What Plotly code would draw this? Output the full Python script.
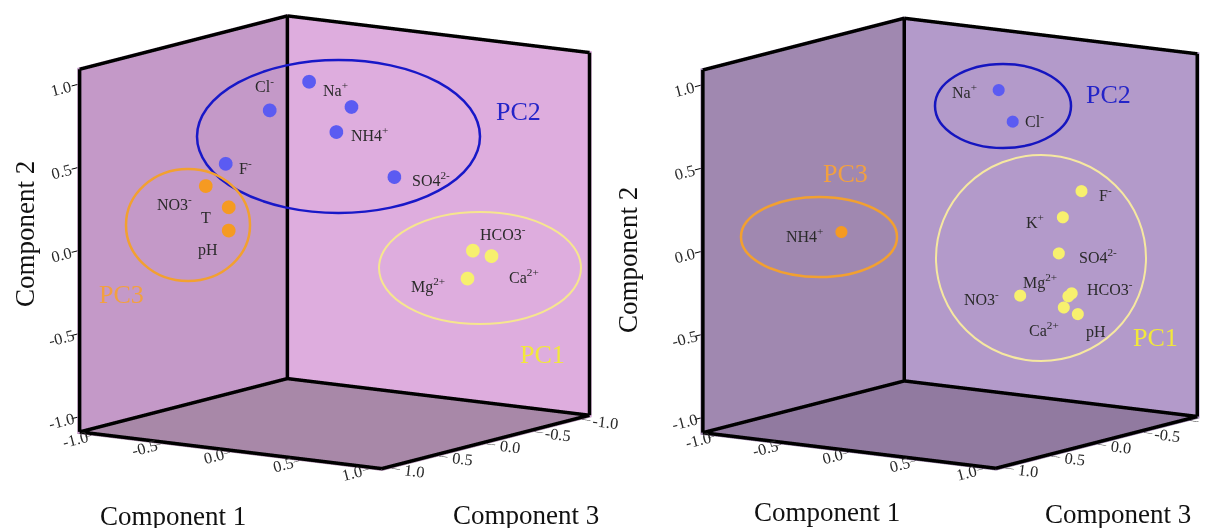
import math
import plotly.graph_objects as go

# ---------------- data (component loadings) ----------------
# Left plot
L_names = ["Cl<sup>-</sup>", "Na<sup>+</sup>", "", "NH4<sup>+</sup>", "F<sup>-</sup>", "SO4<sup>2-</sup>",
           "NO3<sup>-</sup>", "T", "pH",
           "HCO3<sup>-</sup>", "Ca<sup>2+</sup>", "Mg<sup>2+</sup>"]
L_group = ["PC2", "PC2", "PC2", "PC2", "PC2", "PC2",
           "PC3", "PC3", "PC3",
           "PC1", "PC1", "PC1"]
L_comp1 = [-0.40, -0.15, 0.19, 0.15, -0.58, 0.50, -0.38, -0.18, -0.18, 0.86, 0.96, 0.89]
L_comp2 = [0.77, 0.96, 0.85, 0.71, 0.46, 0.46, 0.42, 0.32, 0.18, 0.01, -0.02, -0.14]
L_comp3 = [0.10, 0.05, 0.10, 0.20, 0.30, 0.10, 0.80, 0.85, 0.85, -0.20, -0.25, -0.10]

# Right plot
R_names = ["Na<sup>+</sup>", "Cl<sup>-</sup>", "NH4<sup>+</sup>", "F<sup>-</sup>", "K<sup>+</sup>",
           "SO4<sup>2-</sup>", "NO3<sup>-</sup>", "Mg<sup>2+</sup>", "HCO3<sup>-</sup>", "Ca<sup>2+</sup>", "pH"]
R_group = ["PC2", "PC2", "PC3", "PC1", "PC1", "PC1", "PC1", "PC1", "PC1", "PC1", "PC1"]
R_comp1 = [0.43, 0.50, -0.19, 0.84, 0.77, 0.74, 0.59, 0.88, 0.87, 0.88, 0.95]
R_comp2 = [0.98, 0.79, 0.18, 0.37, 0.22, 0.00, -0.24, -0.23, -0.22, -0.29, -0.33]
R_comp3 = [0.10, 0.05, 0.90, -0.20, -0.10, -0.10, 0.10, 0.00, -0.05, 0.05, 0.00]

tick_vals = [-1.0, -0.5, 0.0, 0.5, 1.0]
tick_text = ["-1.0", "-0.5", "0.0", "0.5", "1.0"]

# ---------------- styling ----------------
OFF = 8                      # page body margin
W, H = 1200, 520
SERIF = "Liberation Serif, Times New Roman, serif"
RANGE = [-1.1, 1.1]
dot_colors = {"PC1": "#F7F06E", "PC2": "#5B5BF2", "PC3": "#F59A22"}

# label offsets (pixels) per point: (xshift, yshift)
L_off = [(-5, 25), (27, -8), (0, 0), (33, -2), (20, -3),
         (37, -2), (-31, -17), (-23, -10), (-21, -20),
         (30, 17), (33, -20), (-39, -7)]
R_off = [(-34, -1), (22, 1), (-37, -3), (24, -3), (-28, -4),
         (39, -3), (-39, -3), (-28, 15), (38, 5), (-20, -22),
         (18, -18)]

fig = go.Figure()


def box_edges():
    lo, hi = RANGE
    lo = lo + 0.012   # pull the outline just in front of the back walls
    hi = hi - 0.008   # and just inside the clipping box
    # back-wall outlines: x=comp3, y=comp1, z=comp2
    segs = [
        ((hi, lo, lo), (hi, lo, hi)),
        ((hi, lo, hi), (lo, lo, hi)),
        ((lo, lo, lo), (lo, lo, hi)),
        ((lo, lo, hi), (lo, hi, hi)),
        ((lo, hi, lo), (lo, hi, hi)),
        ((hi, lo, lo), (lo, lo, lo)),
        ((lo, lo, lo), (lo, hi, lo)),
        ((hi, lo, lo), (hi, hi, lo)),
        ((hi, hi, lo), (lo, hi, lo)),
    ]
    xs, ys, zs = [], [], []
    for a, b in segs:
        xs += [a[0], b[0], None]
        ys += [a[1], b[1], None]
        zs += [a[2], b[2], None]
    return xs, ys, zs


def add_panel(scene, c1, c2, c3, groups, msize):
    ex, ey, ez = box_edges()
    fig.add_trace(go.Scatter3d(x=ex, y=ey, z=ez, mode="lines", line=dict(color="black", width=7),
                               hoverinfo="skip", showlegend=False, scene=scene))
    for g in ["PC1", "PC2", "PC3"]:
        idx = [i for i, gg in enumerate(groups) if gg == g]
        fig.add_trace(go.Scatter3d(
            x=[c3[i] for i in idx], y=[c1[i] for i in idx], z=[c2[i] for i in idx],
            mode="markers", marker=dict(size=msize, color=dot_colors[g], line=dict(width=0), opacity=1),
            showlegend=False, scene=scene, name=g))


add_panel("scene", L_comp1, L_comp2, L_comp3, L_group, 8)
add_panel("scene2", R_comp1, R_comp2, R_comp3, R_group, 7)


def axis(bg):
    return dict(range=RANGE, autorange=False, tickvals=tick_vals, ticktext=tick_text,
                showbackground=True, backgroundcolor=bg, showgrid=False, zeroline=False,
                showline=False, ticks="outside", ticklen=10, tickwidth=2, tickcolor="black",
                tickfont=dict(family=SERIF, size=14, color="#2a2a2a"), showspikes=False,
                title=dict(text=""))


def scene_annotations(names, c1, c2, c3, offs):
    anns = []
    for n, a, b, c, o in zip(names, c1, c2, c3, offs):
        if not n:
            continue
        anns.append(dict(x=c, y=a, z=b, text=n, showarrow=False, xshift=o[0], yshift=o[1],
                         xanchor="center", yanchor="middle",
                         font=dict(family=SERIF, size=16, color="#2a2a2a")))
    return anns


# camera: orthographic view direction, shifted so the box sits where wanted
d = (0.813, 0.559, 0.177)
n = math.sqrt(sum(v * v for v in d))
d = tuple(v / n for v in d)
ce = math.hypot(d[0], d[1])
cphi, sphi = d[0] / ce, d[1] / ce
right_v = (-sphi, cphi, 0.0)
up_v = (-cphi * d[2], -sphi * d[2], ce)


def make_camera(dom_px, target, h_px):
    cx = (dom_px[0] + dom_px[1]) / 2
    cy = (dom_px[2] + dom_px[3]) / 2
    unit = h_px / 2.0
    dr = -(target[0] - cx) / unit
    du = -(cy - target[1]) / unit
    c = [dr * right_v[i] + du * up_v[i] for i in range(3)]
    k = 2.0
    return dict(projection=dict(type="orthographic"), up=dict(x=0, y=0, z=1),
                center=dict(x=c[0], y=c[1], z=c[2]),
                eye=dict(x=c[0] + d[0] * k, y=c[1] + d[1] * k, z=c[2] + d[2] * k))


def sx(x):
    return (x - OFF) / W


def sy(y):
    return 1 - (y - OFF) / H


domL = (10, 650, OFF, OFF + H)
domR = (660, OFF + W, OFF, OFF + H)
hpx = H
aL = 366 * 2 / (ce * hpx)
aR = 366 * 2 / (ce * hpx)

fig.update_layout(
    width=W, height=H, margin=dict(l=0, r=0, t=0, b=0),
    paper_bgcolor="white", plot_bgcolor="white",
    scene=dict(domain=dict(x=[sx(domL[0]), sx(domL[1])], y=[0, 1]),
               xaxis=axis("#DEADDE"), yaxis=axis("#C499C8"), zaxis=axis("#A888A8"),
               aspectmode="manual", aspectratio=dict(x=aL * 0.995, y=aL * 0.995, z=aL),
               camera=make_camera(domL, (334.5, 242.5), hpx), dragmode=False,
               annotations=scene_annotations(L_names, L_comp1, L_comp2, L_comp3, L_off)),
    scene2=dict(domain=dict(x=[sx(domR[0]), 1.0], y=[0, 1]),
                xaxis=axis("#B39ACA"), yaxis=axis("#A088B0"), zaxis=axis("#917AA0"),
                aspectmode="manual", aspectratio=dict(x=aR * 0.965, y=aR * 0.965, z=aR),
                camera=make_camera(domR, (950.0, 243.5), hpx), dragmode=False,
                annotations=scene_annotations(R_names, R_comp1, R_comp2, R_comp3, R_off)),
)

# ellipses around factor groups (cx, cy, rx, ry, color, width) in screen px
ellipses = [(338.5, 136.5, 141.5, 76.5, "#1818C8", 2.5), (188, 225, 62, 56, "#F2A030", 2.5),
            (480, 268, 101, 56, "#F6E68E", 2), (1003, 106, 68, 42, "#1515C0", 2.5),
            (819, 237, 78, 40, "#F2A030", 2.5), (1041, 258, 105, 103, "#F6E8A0", 2)]
for cx, cy, rx, ry, col, lw in ellipses:
    fig.add_shape(type="circle", xref="paper", yref="paper", x0=sx(cx - rx), x1=sx(cx + rx),
                  y0=sy(cy + ry), y1=sy(cy - ry), line=dict(color=col, width=lw), layer="above")

texts = [("PC2", 518, 112, "#2424C8"), ("PC3", 121, 294, "#F2A040"), ("PC1", 542, 354, "#F2E83A"),
         ("PC2", 1108, 95, "#2424C8"), ("PC3", 845, 173, "#F2A040"), ("PC1", 1155, 337, "#F2E83A")]
for t, x, y, col in texts:
    fig.add_annotation(text=t, x=sx(x), y=sy(y), xref="paper", yref="paper", showarrow=False,
                       xanchor="center", yanchor="middle",
                       font=dict(family=SERIF, size=26, color=col))

titles = [("Component 1", 173, 516, 0), ("Component 3", 526, 515, 0), ("Component 2", 25, 234, -90),
          ("Component 1", 827, 512, 0), ("Component 3", 1118, 514, 0), ("Component 2", 628, 260, -90)]
for t, x, y, ang in titles:
    fig.add_annotation(text=t, x=sx(x), y=sy(y), xref="paper", yref="paper", showarrow=False,
                       xanchor="center", yanchor="middle",
                       textangle=ang, font=dict(family=SERIF, size=27, color="#111"))

fig.write_html("out.html")
